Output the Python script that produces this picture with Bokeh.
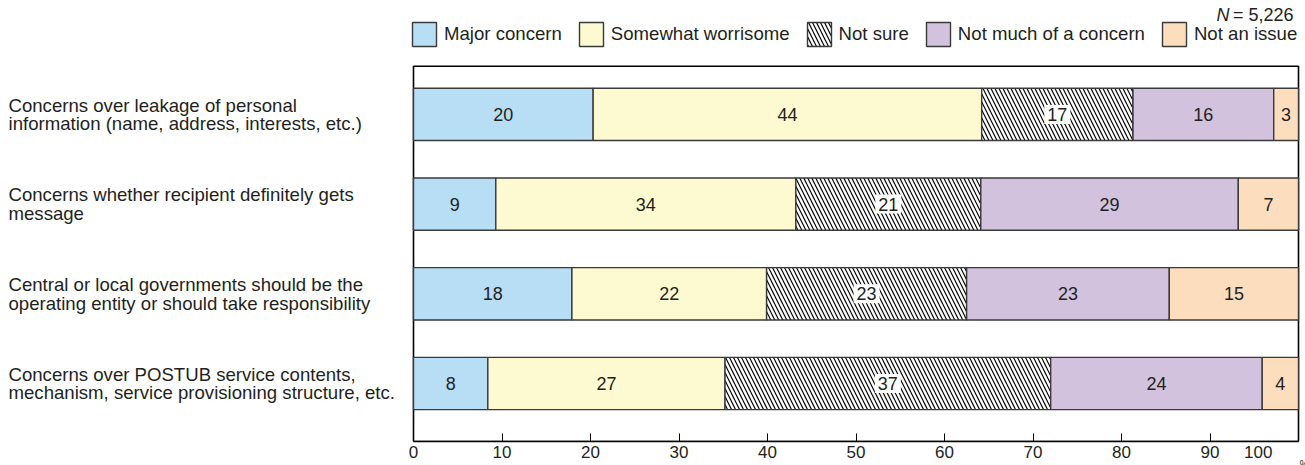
import numpy as np
from bokeh.plotting import figure
from bokeh.models import ColumnDataSource, Range1d, FixedTicker, Legend, LegendItem
from bokeh.core.properties import value
from bokeh.embed import file_html
from bokeh.resources import INLINE

# ---- data -----------------------------------------------------------------
questions = [
    "Concerns over leakage of personal\ninformation (name, address, interests, etc.)",
    "Concerns whether recipient definitely gets\nmessage",
    "Central or local governments should be the\noperating entity or should take responsibility",
    "Concerns over POSTUB service contents,\nmechanism, service provisioning structure, etc.",
]
responses = ["Major concern", "Somewhat worrisome", "Not sure",
             "Not much of a concern", "Not an issue"]

major_concern = [20.3, 9.3, 17.9, 8.4]
somewhat_worrisome = [43.9, 33.9, 22.0, 26.8]
not_sure = [17.1, 20.9, 22.6, 36.8]
not_much_concern = [15.9, 29.1, 22.9, 23.9]
not_an_issue = [2.8, 6.8, 14.6, 4.1]

x_ticks = [0, 10, 20, 30, 40, 50, 60, 70, 80, 90, 100]
sample_size = "5,226"

# ---- styling --------------------------------------------------------------
FONT_NAME = "Liberation Sans"
FONT = value(FONT_NAME)
INK = "#231f20"
EDGE = "#3a3a3a"
fills = ["#b8def5", "#fdf9d1", "#ffffff", "#d2c2dd", "#fcdebf"]
hatches = [None, None, "\\", None, None]
NBSP = "\u00a0"

W, H = 1305, 465
FRAME_H = 441
PX_PER_PCT = 8.85          # horizontal pixels per percentage point
ZERO_PX = 413              # where 0 % sits
ROW_PX = 89.7              # vertical pixels per question row
FIRST_ROW_PX = 113.9       # centre of the first row
BOX_TOP_PX = 65.7

x_start = -ZERO_PX / PX_PER_PCT
x_end = x_start + W / PX_PER_PCT
y_top = -FIRST_ROW_PX / ROW_PX
y_bottom = y_top + FRAME_H / ROW_PX
box_top = y_top + BOX_TOP_PX / ROW_PX
bar_h = 52.3 / ROW_PX

p = figure(frame_width=W, frame_height=FRAME_H,
           x_range=Range1d(x_start, x_end), y_range=Range1d(y_bottom, y_top),
           output_backend="svg", toolbar_location=None,
           y_axis_location=None, x_axis_location="below",
           min_border_left=0, min_border_right=0, min_border_top=0,
           min_border_bottom=24)
p.outline_line_color = None
p.grid.visible = False
p.background_fill_color = "white"
p.border_fill_color = "white"

rows = np.arange(len(questions))
series = [major_concern, somewhat_worrisome, not_sure, not_much_concern, not_an_issue]
stack = np.vstack(series)
rights = np.cumsum(stack, axis=0)
lefts = rights - stack

# plot box around the 0-100 area
p.quad(left=[0], right=[100], top=[box_top], bottom=[y_bottom],
       fill_color=None, line_color="black", line_width=1.6)

legend_items = []
for i, name in enumerate(responses):
    src = ColumnDataSource(dict(
        row=rows, left=lefts[i], right=rights[i],
        mid=(lefts[i] + rights[i]) / 2,
        lbl=[f"{v:.0f}" for v in stack[i]],
    ))
    kw = dict(y="row", left="left", right="right", height=bar_h, source=src,
              fill_color=fills[i], line_color=EDGE, line_width=1.4)
    if hatches[i]:
        kw.update(hatch_pattern=hatches[i], hatch_color="black",
                  hatch_scale=8, hatch_weight=1.2)
    r = p.hbar(**kw)
    legend_items.append(LegendItem(label=name, renderers=[r]))

    tkw = dict(x="mid", y="row", text="lbl", source=src,
               text_align="center", text_baseline="middle",
               text_font=FONT, text_font_size="18px", text_color=INK)
    if hatches[i]:
        tkw.update(background_fill_color="white", padding=3)
    p.text(**tkw)

# question labels on the left
q_src = ColumnDataSource(dict(x=[x_start + 8 / PX_PER_PCT] * len(questions),
                              y=rows, t=questions))
p.text(x="x", y="y", text="t", source=q_src, text_align="left",
       text_baseline="middle", text_font=FONT, text_font_size="18.6px",
       text_color=INK, text_line_height=0.88)

# sample size, top right
n_y = y_top + 14 / ROW_PX
p.text(x=[100], y=[n_y], text=[f" = {sample_size}"], text_align="right",
       text_baseline="middle", text_font=FONT, text_font_size="18px",
       text_color=INK)
p.text(x=[100 - 69 / PX_PER_PCT], y=[n_y], text=["N"], text_align="right",
       text_baseline="middle", text_font=FONT, text_font_size="18px",
       text_font_style="italic", text_color=INK)

# legend swatches are drawn at 80 % of the glyph box, so the box is enlarged
legend = Legend(items=legend_items, orientation="horizontal",
                location=(ZERO_PX - 4, FRAME_H - 49),
                glyph_width=30, glyph_height=30, label_standoff=5, spacing=14,
                padding=0, margin=0, border_line_alpha=0,
                background_fill_alpha=0,
                label_text_font=FONT_NAME, label_text_font_size="18.6px",
                label_text_color=INK, label_height=30)
p.add_layout(legend)

ax = p.xaxis[0]
ax.ticker = FixedTicker(ticks=x_ticks)
ax.bounds = (0, 100)
ax.axis_line_color = "black"
ax.axis_line_width = 1.6
ax.major_tick_in = 8
ax.major_tick_out = 0
ax.major_tick_line_color = "black"
ax.minor_tick_line_color = None
ax.major_label_standoff = 1
ax.major_label_text_font = FONT_NAME
ax.major_label_text_font_size = "17px"
ax.major_label_text_color = INK
# keep the last label inside the page: pad it on the right
ax.major_label_overrides = {x_ticks[-1]: f"{x_ticks[-1]}" + NBSP * 7}

# unit sign at the right end of the scale
ax.axis_label = "%" + NBSP
ax.axis_label_align = "end"
ax.axis_label_standoff = -6
ax.axis_label_text_font = FONT_NAME
ax.axis_label_text_font_size = "10px"
ax.axis_label_text_font_style = "normal"
ax.axis_label_text_color = INK

open("out.html", "w").write(file_html(p, INLINE))
